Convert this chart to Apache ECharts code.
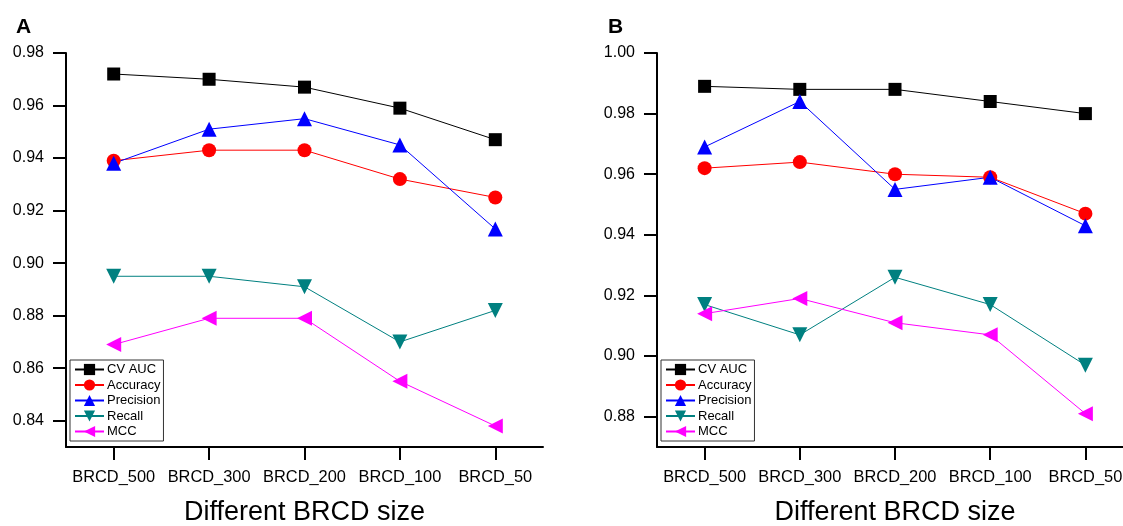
<!DOCTYPE html>
<html>
<head>
<meta charset="utf-8">
<script src="https://cdn.jsdelivr.net/npm/echarts@6/dist/echarts.min.js"></script>
<style>
html,body{margin:0;padding:0;background:#fff;}
#chart{width:1123px;height:526px;}
</style>
</head>
<body>
<div id="chart"></div>
<script>
var categories = ['BRCD_500', 'BRCD_300', 'BRCD_200', 'BRCD_100', 'BRCD_50'];
var seriesNames = ['CV AUC', 'Accuracy', 'Precision', 'Recall', 'MCC'];

// Panel A
var aCvAuc     = [0.972, 0.970, 0.967, 0.959, 0.947];
var aAccuracy  = [0.939, 0.943, 0.943, 0.932, 0.925];
var aPrecision = [0.938, 0.951, 0.955, 0.945, 0.913];
var aRecall    = [0.895, 0.895, 0.891, 0.870, 0.882];
var aMcc       = [0.869, 0.879, 0.879, 0.855, 0.838];
var aTicks     = [0.84, 0.86, 0.88, 0.90, 0.92, 0.94, 0.96, 0.98];
var aRange     = [0.83, 0.98];

// Panel B
var bCvAuc     = [0.989, 0.988, 0.988, 0.984, 0.980];
var bAccuracy  = [0.962, 0.964, 0.960, 0.959, 0.947];
var bPrecision = [0.969, 0.984, 0.955, 0.959, 0.943];
var bRecall    = [0.917, 0.907, 0.926, 0.917, 0.897];
var bMcc       = [0.914, 0.919, 0.911, 0.907, 0.881];
var bTicks     = [0.88, 0.90, 0.92, 0.94, 0.96, 0.98, 1.00];
var bRange     = [0.87, 1.00];

var FONT = '"Liberation Sans", Arial, sans-serif';
var styles = [
  {color: '#000000', symbol: 'rect', size: 13, rotate: 0},
  {color: '#ff0000', symbol: 'circle', size: 14, rotate: 0},
  {color: '#0000ff', symbol: 'triangle', size: 15, rotate: 0},
  {color: '#008080', symbol: 'triangle', size: 15, rotate: 180},
  {color: '#ff00ff', symbol: 'triangle', size: 15, rotate: 90}
];

function makeSeries(dataArrs, idx) {
  return dataArrs.map(function (arr, i) {
    var s = styles[i];
    return {
      name: seriesNames[i],
      type: 'line',
      xAxisIndex: idx,
      yAxisIndex: idx,
      data: arr,
      symbol: s.symbol,
      symbolSize: s.size,
      symbolRotate: s.rotate,
      showAllSymbol: true,
      animation: false,
      lineStyle: {color: s.color, width: 1},
      itemStyle: {color: s.color},
      emphasis: {disabled: true}
    };
  });
}

function xAxis(idx) {
  return {
    type: 'category',
    gridIndex: idx,
    data: categories,
    boundaryGap: true,
    name: 'Different BRCD size',
    nameLocation: 'middle',
    nameGap: 52,
    nameTextStyle: {fontFamily: FONT, fontSize: 27, color: '#000', verticalAlign: 'top'},
    axisLine: {lineStyle: {color: '#000', width: 2}},
    axisTick: {show: true, alignWithLabel: true, inside: false, length: 13, lineStyle: {color: '#000', width: 2}},
    axisLabel: {fontFamily: FONT, fontSize: 16.4, color: '#000', margin: 22, interval: 0},
    splitLine: {show: false}
  };
}

function yAxis(idx, range, ticks) {
  return {
    type: 'value',
    gridIndex: idx,
    min: range[0],
    max: range[1],
    axisLine: {show: true, lineStyle: {color: '#000', width: 2}},
    axisTick: {show: true, inside: false, length: 13, customValues: ticks, lineStyle: {color: '#000', width: 2}},
    axisLabel: {
      fontFamily: FONT, fontSize: 16, color: '#000', margin: 22,
      customValues: ticks,
      formatter: function (v) { return v.toFixed(2); }
    },
    splitLine: {show: false}
  };
}

function legend(left) {
  return {
    orient: 'vertical',
    left: left,
    top: 360,
    data: seriesNames,
    itemWidth: 29,
    itemHeight: 14,
    itemGap: 2.5,
    padding: [3, 3, 3, 4],
    borderColor: '#333',
    borderWidth: 1,
    backgroundColor: '#fff',
    selectedMode: false,
    textStyle: {fontFamily: FONT, fontSize: 13, color: '#000', padding: [0, 0, 0, -2]}
  };
}

var chart = echarts.init(document.getElementById('chart'), null, {renderer: 'canvas'});
chart.setOption({
  animation: false,
  backgroundColor: '#fff',
  title: [
    {text: 'A', left: 11, top: 12, textStyle: {fontFamily: FONT, fontSize: 21, fontWeight: 'bold', color: '#000'}},
    {text: 'B', left: 603, top: 12, textStyle: {fontFamily: FONT, fontSize: 21, fontWeight: 'bold', color: '#000'}}
  ],
  legend: [legend(70), legend(661)],
  grid: [
    {left: 66, top: 53, right: 580, bottom: 79, containLabel: false, outerBoundsMode: 'none'},
    {left: 657, top: 53, right: -10, bottom: 79, containLabel: false, outerBoundsMode: 'none'}
  ],
  xAxis: [xAxis(0), xAxis(1)],
  yAxis: [yAxis(0, aRange, aTicks), yAxis(1, bRange, bTicks)],
  series: makeSeries([aCvAuc, aAccuracy, aPrecision, aRecall, aMcc], 0)
    .concat(makeSeries([bCvAuc, bAccuracy, bPrecision, bRecall, bMcc], 1))
});
</script>
</body>
</html>
